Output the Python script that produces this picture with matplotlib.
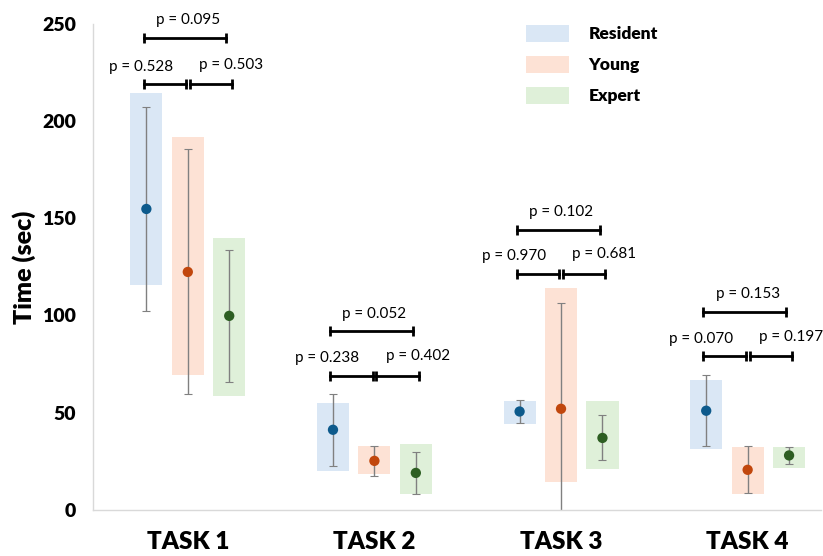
import matplotlib
matplotlib.use('agg')
import matplotlib.pyplot as plt
import numpy as np
from matplotlib.patches import Patch

plt.rcParams['font.family'] = ['Lato', 'DejaVu Sans']

tasks = ['TASK 1', 'TASK 2', 'TASK 3', 'TASK 4']
groups = ['Resident', 'Young', 'Expert']

# shaded range (low, high) per group, one value per task
box_low = {
    'Resident': [115.7, 20.1, 44.2, 31.4],
    'Young': [69.4, 18.5, 14.4, 8.2],
    'Expert': [58.6, 8.2, 21.0, 21.6],
}
box_high = {
    'Resident': [214.5, 55.0, 56.0, 66.9],
    'Young': [191.9, 33.0, 114.2, 32.2],
    'Expert': [139.9, 34.0, 56.0, 32.2],
}
means = {
    'Resident': [154.8, 41.2, 50.6, 51.0],
    'Young': [122.4, 25.2, 52.0, 20.6],
    'Expert': [99.8, 19.0, 37.0, 28.0],
}
sds = {
    'Resident': [52.5, 18.6, 6.0, 18.2],
    'Young': [63.0, 7.7, 54.5, 12.0],
    'Expert': [34.0, 10.8, 11.6, 4.4],
}

# p-values: (resident vs young, young vs expert, resident vs expert)
p_ry = ['0.528', '0.238', '0.970', '0.070']
p_ye = ['0.503', '0.402', '0.681', '0.197']
p_re = ['0.095', '0.052', '0.102', '0.153']
bracket_low = [219, 69, 121.5, 79]
bracket_high = [243, 92, 144, 102]

box_colors = {'Resident': '#dae7f5', 'Young': '#fde2d5', 'Expert': '#dff0d9'}
dot_colors = {'Resident': '#0d5a8c', 'Young': '#c1470d', 'Expert': '#2d5e22'}

offset = 0.222
width = 0.172

fig = plt.figure(figsize=(8.23, 5.56), dpi=100)
ax = fig.add_axes([0.113, 0.083, 0.885, 0.874])

x = np.arange(len(tasks))
for gi, g in enumerate(groups):
    xs = x + (gi - 1) * offset
    lo = np.array(box_low[g])
    hi = np.array(box_high[g])
    ax.bar(xs, hi - lo, width=width, bottom=lo, color=box_colors[g],
           edgecolor='none', zorder=1)
    ax.errorbar(xs, means[g], yerr=sds[g], fmt='none', ecolor='#808080',
                elinewidth=1.0, capsize=3, capthick=0.8, zorder=2)
    ax.scatter(xs, means[g], s=55, color=dot_colors[g], zorder=3,
               edgecolors='none')

# significance brackets
bk = dict(color='black', linewidth=2, marker='|', markersize=7,
          markeredgewidth=2, clip_on=False, zorder=4)
tk = dict(ha='center', va='center', fontsize=11, clip_on=False)
for i in range(len(tasks)):
    xr, xy, xe = x[i] - offset, x[i], x[i] + offset
    ax.plot([xr - 0.015, xy - 0.01], [bracket_low[i]] * 2, **bk)
    ax.plot([xy + 0.01, xe + 0.015], [bracket_low[i]] * 2, **bk)
    ax.plot([xr - 0.015, xe - 0.015], [bracket_high[i]] * 2, **bk)
    ax.text(xr - 0.03, bracket_low[i] + 9, 'p = ' + p_ry[i], **tk)
    ax.text(xe + 0.01, bracket_low[i] + 10, 'p = ' + p_ye[i], **tk)
    ax.text(xy, bracket_high[i] + 9, 'p = ' + p_re[i], **tk)

ax.set_xlim(-0.508, 3.395)
ax.set_ylim(0, 250)
ax.set_yticks([0, 50, 100, 150, 200, 250])
ax.set_xticks(x)
ax.set_xticklabels(tasks, fontsize=17.5, fontweight='heavy')
ax.tick_params(axis='x', length=0, pad=15)
ax.tick_params(axis='y', length=0, pad=12, labelsize=14)
for lab in ax.get_yticklabels():
    lab.set_fontweight('heavy')
ax.set_ylabel('Time (sec)', fontsize=18, fontweight='heavy', va='center')
ax.yaxis.set_label_coords(-0.095, 0.5)

for side in ['top', 'right']:
    ax.spines[side].set_visible(False)
for side in ['left', 'bottom']:
    ax.spines[side].set_color('#d9d9d9')
    ax.spines[side].set_linewidth(1)

handles = [Patch(facecolor=box_colors[g], edgecolor='none') for g in groups]
leg = ax.legend(handles, groups, loc='upper left', bbox_to_anchor=(0.573, 1.03),
                frameon=False, handlelength=2.5, handleheight=1.1,
                handletextpad=1.1, labelspacing=0.8,
                prop={'weight': 'heavy', 'size': 12.5})

plt.savefig('out.png', dpi=100)
plt.close()
